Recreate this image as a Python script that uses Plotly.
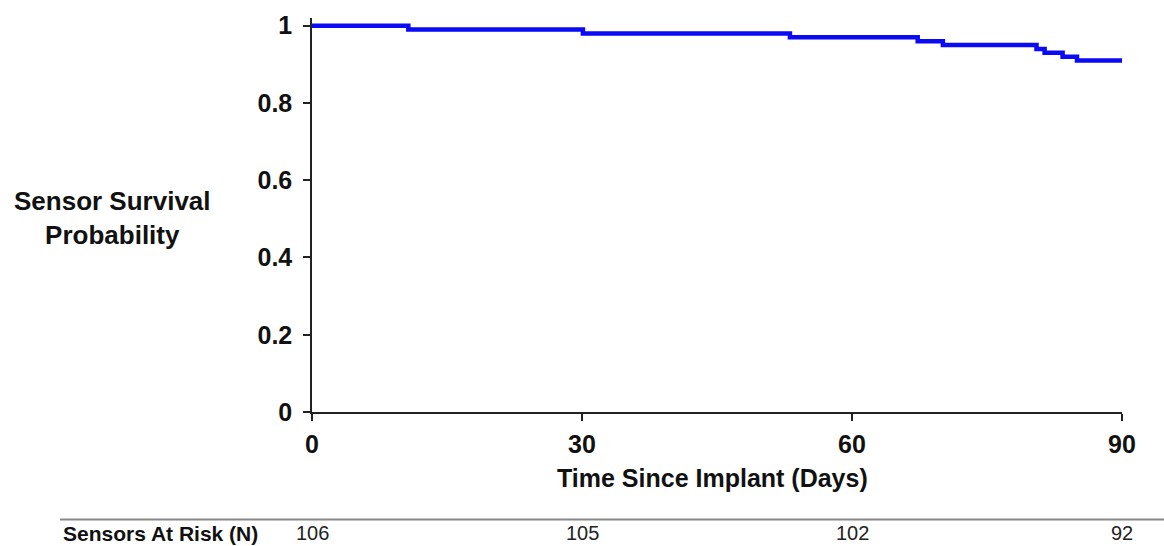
import plotly.graph_objects as go

# Kaplan-Meier step data
event_days = [0, 10.7, 30.1, 53.1, 67.3, 70.1, 80.5, 81.4, 83.4, 85.0, 90]
survival = [1.0, 0.99, 0.98, 0.97, 0.96, 0.95, 0.94, 0.93, 0.92, 0.91, 0.91]

x_ticks = [0, 30, 60, 90]
y_ticks = [0, 0.2, 0.4, 0.6, 0.8, 1]
y_tick_labels = ["0", "0.2", "0.4", "0.6", "0.8", "1"]

risk_days = [0, 30, 60, 90]
risk_counts = [106, 105, 102, 92]

W, H = 1164, 546
L, R, T, B = 312, 42, 16, 134
PW = W - L - R

def px_to_paper_x(px):
    return (px - L) / PW

def py_to_paper_y(py):
    return (H - B - py) / (H - T - B)

sans = "Liberation Sans, Arial, sans-serif"
narrow = "Liberation Sans Narrow, Arial Narrow, Liberation Sans, sans-serif"
ink = "#111111"

fig = go.Figure()
fig.add_trace(go.Scatter(
    x=event_days, y=survival, mode="lines",
    line=dict(shape="hv", color="#0a0af5", width=4.5),
    showlegend=False, hoverinfo="skip",
))

axis_common = dict(
    showgrid=False, zeroline=False, showline=True, linecolor="#222222", linewidth=1.5,
    ticks="outside", ticklen=7, tickwidth=1.5, tickcolor="#222222",
    tickfont=dict(family=sans, size=25, color=ink), fixedrange=True,
)

fig.update_layout(
    width=W, height=H,
    margin=dict(l=L, r=R, t=T, b=B),
    paper_bgcolor="white", plot_bgcolor="white",
    xaxis=dict(range=[0, 90], tickvals=x_ticks,
               ticktext=["<b>%d</b>" % v for v in x_ticks],
               ticklabelstandoff=2, **axis_common),
    yaxis=dict(range=[0, 1.02], tickvals=y_ticks,
               ticktext=["<b>%s</b>" % t for t in y_tick_labels],
               ticklabelstandoff=6, **axis_common),
)

annotations = [
    dict(text="<b>Sensor Survival<br>Probability</b>", xref="paper", yref="paper",
         x=px_to_paper_x(112), y=py_to_paper_y(217), xanchor="center", yanchor="middle",
         showarrow=False, font=dict(family=sans, size=26, color=ink), align="center"),
    dict(text="<b>Time Since Implant (Days)</b>", xref="paper", yref="paper",
         x=px_to_paper_x(712), y=py_to_paper_y(478), xanchor="center", yanchor="middle",
         showarrow=False, font=dict(family=sans, size=25, color=ink)),
    dict(text="<b>Sensors At Risk (N)</b>", xref="paper", yref="paper",
         x=px_to_paper_x(61), y=py_to_paper_y(534), xanchor="left", yanchor="middle",
         showarrow=False, font=dict(family=narrow, size=21, color=ink)),
]
for d, n in zip(risk_days, risk_counts):
    annotations.append(dict(
        text=str(n), xref="x", yref="paper", x=d, y=py_to_paper_y(534),
        xanchor="center", yanchor="middle", showarrow=False,
        font=dict(family=narrow, size=20, color="#222222"),
    ))
fig.update_layout(annotations=annotations)

fig.add_shape(type="line", xref="paper", yref="paper",
              x0=px_to_paper_x(60), x1=px_to_paper_x(1164),
              y0=py_to_paper_y(520), y1=py_to_paper_y(520),
              line=dict(color="#888888", width=2))

fig.write_html("out.html", config={"displayModeBar": False},
               post_script="document.body.style.margin='0';document.body.style.overflow='hidden';")
